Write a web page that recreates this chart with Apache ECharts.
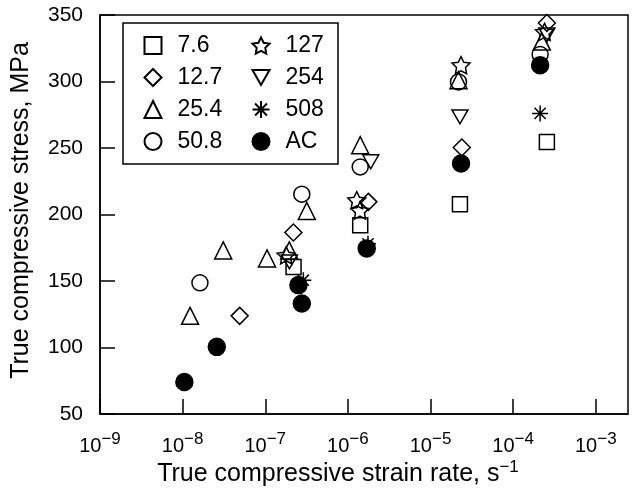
<!DOCTYPE html>
<html><head><meta charset="utf-8">
<script src="https://cdn.jsdelivr.net/npm/echarts@6/dist/echarts.min.js"></script>
<style>html,body{margin:0;padding:0;background:#fff}#c{width:636px;height:491px}</style>
</head><body><div id="c"></div>
<script>
// ---- data (strain rate s^-1, stress MPa) ----
const seriesNames = ['7.6', '12.7', '25.4', '50.8', '127', '254', '508', 'AC'];
const rate_7_6 = [2.2e-7, 1.41e-6, 2.27e-5, 2.56e-4];
const stress_7_6 = [160.6, 192, 207.8, 254.6];
const rate_12_7 = [4.9e-8, 2.19e-7, 1.77e-6, 2.39e-5, 2.56e-4];
const stress_12_7 = [123.8, 186.5, 209.5, 250.4, 344];
const rate_25_4 = [1.23e-8, 3.1e-8, 1.05e-7, 1.95e-7, 3.18e-7, 1.41e-6, 2.18e-5, 2.22e-4];
const stress_25_4 = [123.8, 173, 167, 173, 202.7, 252.1, 301, 330];
const rate_50_8 = [1.62e-8, 2.77e-7, 1.41e-6, 2.18e-5, 2.12e-4];
const stress_50_8 = [148.6, 215.3, 235.8, 299.7, 320.3];
const rate_127 = [1.79e-7, 1.28e-6, 1.4e-6, 2.34e-5, 2.4e-4];
const stress_127 = [169.4, 210.8, 203, 312.3, 337.3];
const rate_254 = [1.96e-7, 1.89e-6, 2.27e-5, 2.56e-4];
const stress_254 = [164.4, 239.6, 273.4, 335];
const rate_508 = [2.89e-7, 1.75e-6, 2.3e-5, 2.12e-4];
const stress_508 = [150.6, 178, 238, 276];
const rate_AC = [1.05e-8, 2.59e-8, 2.52e-7, 2.77e-7, 1.69e-6, 2.34e-5, 2.12e-4];
const stress_AC = [74.1, 100.5, 146.9, 133.1, 174.5, 238.4, 312.3];

const xTickExponents = [-9, -8, -7, -6, -5, -4, -3];
const yTicks = [50, 100, 150, 200, 250, 300, 350];
const xMaxRate = Math.pow(10, -2.61);

// ---- build ----
const FONT = '"Liberation Sans", Arial, Helvetica, sans-serif';
const STAR = 'path://M50,0 L64.7,29.8 L97.55,34.55 L73.8,57.7 L79.39,90.45 L50,75 L20.61,90.45 L26.2,57.7 L2.45,34.55 L35.3,29.8 Z';
const INVTRI = 'path://M0,0 L100,0 L50,87 Z';
const ASTER = 'path://M50,0 L50,100 M0,50 L100,50 M15,15 L85,85 M85,15 L15,85';

const specs = [
  {name: '7.6', x: rate_7_6, y: stress_7_6, symbol: 'rect', size: 15},
  {name: '12.7', x: rate_12_7, y: stress_12_7, symbol: 'diamond', size: 17},
  {name: '25.4', x: rate_25_4, y: stress_25_4, symbol: 'triangle', size: 17},
  {name: '50.8', x: rate_50_8, y: stress_50_8, symbol: 'circle', size: 16},
  {name: '127', x: rate_127, y: stress_127, symbol: STAR, size: 18},
  {name: '254', x: rate_254, y: stress_254, symbol: INVTRI, size: 16},
  {name: '508', x: rate_508, y: stress_508, symbol: ASTER, size: 16},
  {name: 'AC', x: rate_AC, y: stress_AC, symbol: 'circle', size: 17, filled: true}
];

const series = specs.map(s => ({
  name: s.name,
  type: 'scatter',
  symbol: s.symbol,
  symbolSize: s.size,
  symbolKeepAspect: true,
  data: s.x.map((v, i) => [Math.log10(v), s.y[i]]),
  itemStyle: {color: s.filled ? '#000' : 'rgba(255,255,255,0)', borderColor: '#000', borderWidth: 1.5, opacity: 1},
  emphasis: {disabled: true},
  z: s.filled ? 3 : 2
}));

const supRich = {sup: {fontSize: 17, lineHeight: 17, padding: [0, 0, 14, 0], color: '#000', fontFamily: FONT}};
const legendCommon = {
  orient: 'vertical', top: 34, padding: 0, itemGap: 9,
  itemWidth: 17, itemHeight: 17, symbolKeepAspect: true,
  formatter: n => '{g|}' + n,
  textStyle: {fontSize: 23, lineHeight: 22, color: '#000', fontFamily: FONT, rich: {g: {width: 11}}},
  selectedMode: false
};

const option = {
  animation: false,
  backgroundColor: '#fff',
  grid: {left: 100, right: 8, top: 15, bottom: 77, show: true, borderColor: '#000', borderWidth: 1.5, outerBoundsMode: 'none', containLabel: false},
  graphic: [{type: 'rect', shape: {x: 123, y: 23, width: 215, height: 141}, style: {fill: '#fff', stroke: '#000', lineWidth: 1.5}, z: 1}],
  legend: [
    Object.assign({}, legendCommon, {left: 143.5, data: seriesNames.slice(0, 4)}),
    Object.assign({}, legendCommon, {left: 251.5, data: seriesNames.slice(4)})
  ],
  xAxis: {
    type: 'value',
    min: xTickExponents[0], max: Math.log10(xMaxRate), interval: 1,
    axisLine: {show: true, lineStyle: {color: '#000', width: 1.5}},
    axisTick: {show: true, inside: true, length: 15, lineStyle: {color: '#000', width: 1.5}},
    splitLine: {show: false},
    axisLabel: {
      margin: 22, color: '#000', fontSize: 20, fontFamily: FONT, showMaxLabel: false,
      formatter: v => xTickExponents.includes(Math.round(v * 1000) / 1000) ? '10{sup|−' + (-Math.round(v)) + '}' : '',
      rich: supRich
    },
    name: 'True compressive strain rate, s{sup|−1}',
    nameLocation: 'middle', nameGap: 48, nameMoveOverlap: false,
    nameTextStyle: {fontSize: 25, color: '#000', fontFamily: FONT, padding: [0, 52, 0, 0], rich: supRich}
  },
  yAxis: {
    type: 'value',
    min: yTicks[0], max: yTicks[yTicks.length - 1], interval: 50,
    axisLine: {show: true, lineStyle: {color: '#000', width: 1.5}},
    axisTick: {show: true, inside: true, length: 15, lineStyle: {color: '#000', width: 1.5}},
    splitLine: {show: false},
    axisLabel: {margin: 17, color: '#000', fontSize: 21, fontFamily: FONT},
    name: 'True compressive stress, MPa',
    nameLocation: 'middle', nameGap: 66, nameMoveOverlap: false,
    nameTextStyle: {fontSize: 25, color: '#000', fontFamily: FONT, padding: [0, 0, 0, 8]}
  },
  series: series
};

const chart = echarts.init(document.getElementById('c'), null, {renderer: 'canvas'});
chart.setOption(option);
</script>
</body></html>
